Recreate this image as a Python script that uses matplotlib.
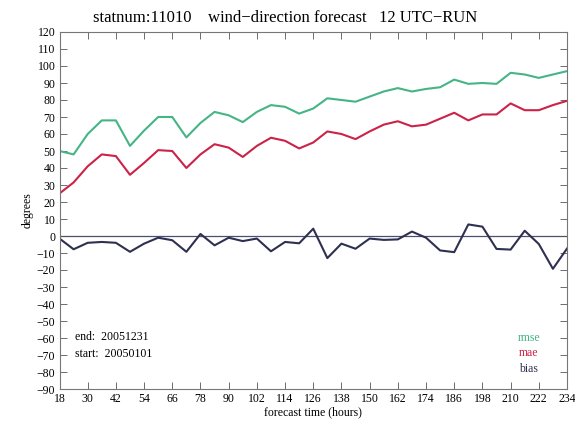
import matplotlib
matplotlib.use("Agg")
import matplotlib.pyplot as plt
import numpy as np

hours = list(range(18, 235, 6))
rmse = [50, 48, 60, 68, 68, 53, 62, 70, 70, 58, 66.5, 73, 71, 67, 73, 77, 76, 72, 75,
        81, 80, 79, 82, 85, 87, 85, 86.5, 87.5, 92, 89.5, 90, 89.5, 96, 95, 93, 95, 97]
mae = [25, 31.5, 41, 48, 47, 36, 43, 50.5, 50, 40, 48, 54, 52, 46.5, 53, 57.8, 56, 51.5, 55,
       61.5, 60, 57, 61.5, 65.5, 67.5, 64.5, 65.5, 69, 72.5, 68, 71.5, 71.5, 78, 74, 74, 77, 79.5]
bias = [-1.5, -7.8, -4, -3.5, -4, -9.3, -4.5, -1, -2.5, -9.3, 1.2, -5.5, -1, -3, -1.5, -9, -3.5,
        -4.3, 4.3, -13, -4.5, -7.5, -1.5, -2.3, -2, 2.6, -1, -8.5, -9.5, 6.8, 5.5, -7.6, -8, 3.1,
        -4.7, -19.3, -7.4]
xticks = list(range(18, 235, 12))
yticks = list(range(-90, 121, 10))

plt.rcParams['font.family'] = ['Liberation Serif', 'DejaVu Serif']

fig = plt.figure(figsize=(5.75, 4.23), dpi=100)
ax = fig.add_axes([59.5/575, 34/423, (567-59.5)/575, (389-32)/423])

c_rmse = '#45b585'
c_mae = '#cc2248'
c_bias = '#2e3050'

ax.axhline(0, color='#4a4e72', lw=0.9, zorder=1)
ax.plot(hours, rmse, color=c_rmse, lw=1.5)
ax.plot(hours, mae, color=c_mae, lw=1.5)
ax.plot(hours, bias, color=c_bias, lw=1.5)

ax.set_xlim(18, 234)
ax.set_ylim(-90, 120)
ax.set_xticks(xticks)
ax.set_yticks(yticks)
ax.tick_params(direction='in', top=True, right=True, labelsize=8.5, length=5,
               width=0.6, color='#555555', pad=3)
for s in ax.spines.values():
    s.set_color('#777777')
    s.set_linewidth(0.8)

fig.text(285/575, 1 - 18/423, 'statnum:11010    wind\u2212direction forecast   12 UTC\u2212RUN',
         fontsize=12, ha='center', va='center')
ax.set_xlabel('forecast time (hours)', fontsize=8.5, labelpad=1)
ax.set_ylabel('degrees', fontsize=8.5, labelpad=2)

ax.text(0.03, 0.145, 'end:  20051231', transform=ax.transAxes, fontsize=8.5, va='center')
ax.text(0.03, 0.097, 'start:  20050101', transform=ax.transAxes, fontsize=8.5, va='center')

ax.text(0.925, 0.143, 'rmse', color=c_rmse, transform=ax.transAxes, fontsize=8.5, ha='center', va='center')
ax.text(0.925, 0.100, 'mae', color=c_mae, transform=ax.transAxes, fontsize=8.5, ha='center', va='center')
ax.text(0.925, 0.057, 'bias', color=c_bias, transform=ax.transAxes, fontsize=8.5, ha='center', va='center')

fig.savefig('out.png', dpi=100, facecolor='white')
